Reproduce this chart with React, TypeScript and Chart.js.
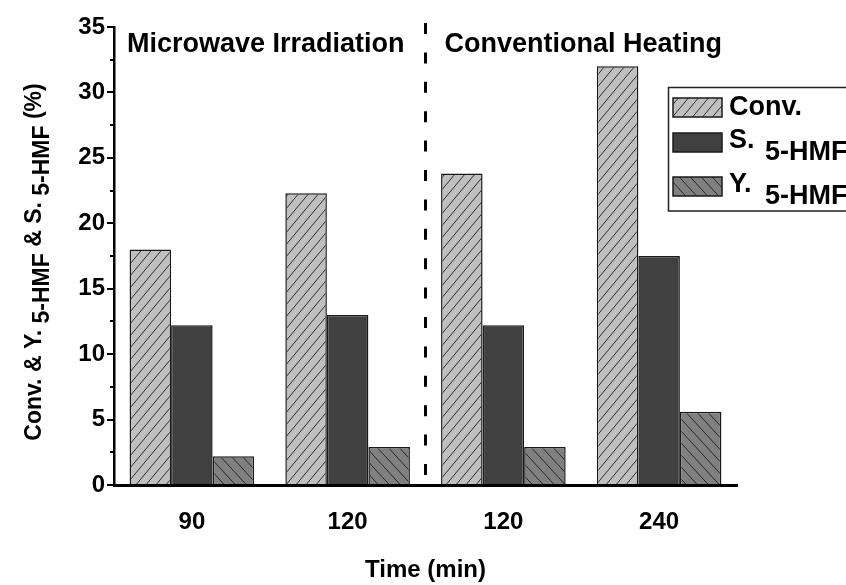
import React, { useEffect, useRef } from "react";
import { Chart, registerables } from "chart.js";

Chart.register(...registerables);

const categories = ["90", "120", "120", "240"];
const convValues = [18.0, 22.3, 23.8, 32.0];
const selValues = [12.2, 13.0, 12.2, 17.5];
const yieldValues = [2.2, 2.9, 2.9, 5.6];
const sectionLabels = ["Microwave Irradiation", "Conventional Heating"];
const legendLabels = ["Conv.", "S.", "Y."];
const subLabel = "5-HMF";
const xTitle = "Time (min)";
const yTitleParts = [
  { t: "Conv. & Y. ", sub: false },
  { t: "5-HMF", sub: true },
  { t: " & S. ", sub: false },
  { t: "5-HMF", sub: true },
  { t: " (%)", sub: false },
];
const yMin = 0;
const yMax = 35;
const yStep = 5;

const FONT = "'Liberation Sans', Arial, Helvetica, sans-serif";

function makeHatch(bg: string, w: number, h: number, forward: boolean) {
  const c = document.createElement("canvas");
  c.width = w;
  c.height = h;
  const g = c.getContext("2d")!;
  g.fillStyle = bg;
  g.fillRect(0, 0, w, h);
  g.strokeStyle = "#1e1e1e";
  g.lineWidth = 0.9;
  for (let k = -1; k <= 1; k++) {
    g.beginPath();
    if (forward) {
      g.moveTo(k * w, h);
      g.lineTo((k + 1) * w, 0);
    } else {
      g.moveTo(k * w, 0);
      g.lineTo((k + 1) * w, h);
    }
    g.stroke();
  }
  return g.createPattern(c, "repeat")!;
}

export default function App() {
  const ref = useRef<HTMLCanvasElement | null>(null);

  useEffect(() => {
    document.body.style.margin = "0";
    const canvas = ref.current!;
    const convPat = makeHatch("#c0c0c0", 10, 12, true);
    const yieldPat = makeHatch("#808080", 11, 12, false);
    const selColor = "#404040";

    const overlay = {
      id: "overlay",
      afterDraw(chart: any) {
        const ctx = chart.ctx as CanvasRenderingContext2D;
        const xs = chart.scales.x;
        const ys = chart.scales.y;
        const area = chart.chartArea;
        ctx.save();

        // minor ticks
        ctx.strokeStyle = "#000";
        ctx.lineWidth = 2;
        for (let v = yMin + yStep / 2; v < yMax; v += yStep) {
          const py = Math.round(ys.getPixelForValue(v));
          ctx.beginPath();
          ctx.moveTo(area.left - 4, py);
          ctx.lineTo(area.left, py);
          ctx.stroke();
        }

        // dashed separator
        const sepX = (xs.getPixelForValue(1) + xs.getPixelForValue(2)) / 2;
        ctx.beginPath();
        ctx.setLineDash([11, 18.4]);
        ctx.lineWidth = 3;
        ctx.moveTo(sepX, 23);
        ctx.lineTo(sepX, area.bottom);
        ctx.stroke();
        ctx.setLineDash([]);

        // section labels
        ctx.fillStyle = "#000";
        ctx.font = `bold 27px ${FONT}`;
        ctx.textBaseline = "alphabetic";
        ctx.textAlign = "left";
        ctx.fillText(sectionLabels[0], area.left + 13, 52);
        ctx.fillText(sectionLabels[1], sepX + 19, 52);

        // legend
        ctx.lineWidth = 1.5;
        ctx.strokeStyle = "#222";
        ctx.strokeRect(668.5, 87.5, 220, 123.5);
        const fills = [convPat, selColor, yieldPat];
        const patchTops = [98, 133, 177];
        const baselines = [115, 148, 192];
        for (let i = 0; i < 3; i++) {
          ctx.fillStyle = fills[i] as any;
          ctx.fillRect(673, patchTops[i], 49, 19);
          ctx.lineWidth = 1.5;
          ctx.strokeStyle = "#1a1a1a";
          ctx.strokeRect(673, patchTops[i], 49, 19);
          ctx.fillStyle = "#000";
          ctx.font = `bold 27px ${FONT}`;
          ctx.fillText(legendLabels[i], 729, baselines[i]);
          if (i > 0) ctx.fillText(subLabel, 765, baselines[i] + 12);
        }

        // y title
        ctx.font = `bold 23px ${FONT}`;
        const total = yTitleParts.reduce((s, p) => s + ctx.measureText(p.t).width, 0);
        ctx.translate(41, 262);
        ctx.rotate(-Math.PI / 2);
        let cx = -total / 2;
        for (const p of yTitleParts) {
          ctx.fillText(p.t, cx, p.sub ? 8 : 0);
          cx += ctx.measureText(p.t).width;
        }
        ctx.restore();
      },
    };

    const chart = new Chart(canvas, {
      type: "bar",
      data: {
        labels: categories,
        datasets: [
          {
            label: legendLabels[0],
            data: convValues,
            backgroundColor: convPat as any,
            borderColor: "#1a1a1a",
            borderWidth: 1.5,
          },
          {
            label: legendLabels[1],
            data: selValues,
            backgroundColor: selColor,
            borderColor: "#1a1a1a",
            borderWidth: 1.5,
          },
          {
            label: legendLabels[2],
            data: yieldValues,
            backgroundColor: yieldPat as any,
            borderColor: "#1a1a1a",
            borderWidth: 1.5,
          },
        ],
      },
      options: {
        animation: false,
        responsive: true,
        maintainAspectRatio: false,
        layout: { padding: { top: 27, right: 109, bottom: 0, left: 0 } },
        plugins: {
          legend: { display: false },
          tooltip: { enabled: false },
          title: { display: false },
        },
        datasets: {
          bar: { barPercentage: 1, categoryPercentage: 0.8 },
        },
        scales: {
          x: {
            type: "category",
            offset: true,
            grid: { display: false },
            border: { display: true, color: "#000", width: 3 },
            ticks: {
              color: "#000",
              font: { family: FONT, size: 24, weight: "bold" },
              padding: 15,
              maxRotation: 0,
            },
            title: {
              display: true,
              text: xTitle,
              color: "#000",
              font: { family: FONT, size: 24, weight: "bold" },
              padding: { top: 0, bottom: 0 },
            },
            afterFit(scale: any) {
              scale.height = 100;
            },
          },
          y: {
            min: yMin,
            max: yMax,
            ticks: {
              stepSize: yStep,
              color: "#000",
              font: { family: FONT, size: 24, weight: "bold" },
              padding: 2,
            },
            grid: {
              drawOnChartArea: false,
              drawTicks: true,
              tickLength: 7,
              color: "#000",
              lineWidth: 2,
            },
            border: { display: true, color: "#000", width: 2.5 },
            afterFit(scale: any) {
              scale.width = 114;
            },
          },
        },
      },
      plugins: [overlay],
    });
    return () => chart.destroy();
  }, []);

  return (
    <div style={{ width: 846, height: 585, position: "relative" }}>
      <canvas ref={ref} />
    </div>
  );
}
